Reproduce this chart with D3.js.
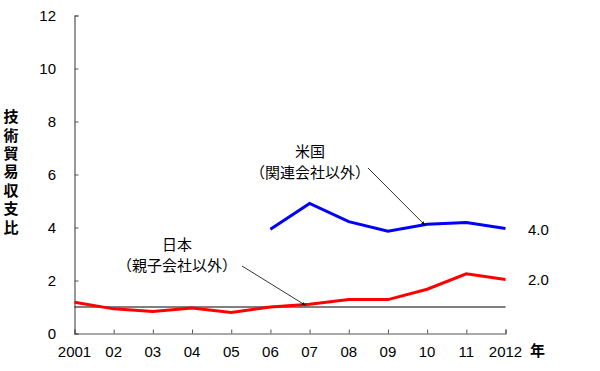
<!DOCTYPE html>
<html>
<head>
<meta charset="utf-8">
<script src="https://d3js.org/d3.v7.min.js"></script>
<style>
  body { margin: 0; background: #fff; }
  text { font-family: "Liberation Sans", "Noto Sans CJK JP", sans-serif; fill: #000; }
  .jp { font-family: "Noto Sans CJK JP", sans-serif; }
</style>
</head>
<body>
<svg class="chart"></svg>
<script>
const years = [2001, 2002, 2003, 2004, 2005, 2006, 2007, 2008, 2009, 2010, 2011, 2012];
const yearLabels = ['2001', '02', '03', '04', '05', '06', '07', '08', '09', '10', '11', '2012'];
const japan = [1.18, 0.93, 0.83, 0.96, 0.79, 1.0, 1.1, 1.28, 1.28, 1.67, 2.25, 2.04];
const usYears = [2006, 2007, 2008, 2009, 2010, 2011, 2012];
const us = [3.93, 4.91, 4.22, 3.86, 4.12, 4.19, 3.96];
const yTicks = [0, 2, 4, 6, 8, 10, 12];

const width = 600, height = 371;
const svg = d3.select('.chart')
  .attr('width', width)
  .attr('height', height)
  .attr('viewBox', [0, 0, width, height]);

const x = d3.scaleLinear().domain([2001, 2012]).range([74.5, 505.5]);
const y = d3.scaleLinear().domain([0, 12]).range([333.5, 15.5]);

svg.append('defs').append('marker')
  .attr('id', 'arr')
  .attr('viewBox', '0 0 10 10')
  .attr('refX', 10).attr('refY', 5)
  .attr('markerWidth', 5).attr('markerHeight', 5)
  .attr('orient', 'auto')
  .append('path').attr('d', 'M0,1L10,5L0,9z').attr('fill', '#000');

// axes
const yAxis = svg.append('g')
  .attr('transform', `translate(${x(2001)},0)`)
  .call(d3.axisRight(y).tickValues(yTicks).tickSize(4).tickFormat(''));
yAxis.select('.domain').attr('stroke', '#555').attr('stroke-width', 1.2);
yAxis.selectAll('.tick line').attr('stroke', '#555');

svg.selectAll('.ylab')
  .data(yTicks)
  .join('text')
  .attr('class', 'ylab')
  .attr('x', 56).attr('y', d => y(d) + 5)
  .attr('text-anchor', 'end')
  .attr('font-size', 15)
  .text(d => d);

const xAxis = svg.append('g')
  .attr('transform', `translate(0,${y(0)})`)
  .call(d3.axisTop(x).tickValues(years).tickSize(4).tickFormat(''));
xAxis.select('.domain').attr('stroke', '#555').attr('stroke-width', 1.2);
xAxis.selectAll('.tick line').attr('stroke', '#555');

svg.selectAll('.xlab')
  .data(years)
  .join('text')
  .attr('class', 'xlab')
  .attr('x', d => x(d)).attr('y', 357)
  .attr('text-anchor', 'middle')
  .attr('font-size', 15)
  .text((d, i) => yearLabels[i]);

svg.append('text').attr('class', 'jp')
  .attr('x', 530).attr('y', 356)
  .attr('font-size', 15).attr('font-weight', 'bold')
  .text('年');

// y title, vertical
svg.append('text')
  .attr('class', 'jp')
  .attr('x', 11).attr('y', 109)
  .attr('writing-mode', 'tb')
  .style('letter-spacing', '3.4px')
  .attr('font-size', 15).attr('font-weight', 'bold')
  .text('技術貿易収支比');

// reference line at 1
svg.append('line')
  .attr('x1', x(2001)).attr('x2', x(2012))
  .attr('y1', y(1)).attr('y2', y(1))
  .attr('stroke', '#000').attr('stroke-width', 1);

const line = d3.line().x(d => x(d[0])).y(d => y(d[1]));

svg.append('path')
  .datum(years.map((d, i) => [d, japan[i]]))
  .attr('d', line)
  .attr('fill', 'none').attr('stroke', '#ff0000').attr('stroke-width', 3);

svg.append('path')
  .datum(usYears.map((d, i) => [d, us[i]]))
  .attr('d', line)
  .attr('fill', 'none').attr('stroke', '#0000ff').attr('stroke-width', 3);

// end labels
svg.append('text').attr('x', 528).attr('y', y(us[us.length - 1]) + 6)
  .attr('font-size', 15).text(us[us.length - 1].toFixed(1));
svg.append('text').attr('x', 528).attr('y', y(japan[japan.length - 1]) + 6)
  .attr('font-size', 15).text(japan[japan.length - 1].toFixed(1));

// annotations
function note(cx, cyTop, lines) {
  svg.append('g').selectAll('text')
    .data(lines)
    .join('text')
    .attr('class', 'jp')
    .attr('x', cx).attr('y', (d, i) => cyTop + i * 21)
    .attr('text-anchor', 'middle')
    .attr('font-size', 15)
    .text(d => d);
}
note(310, 157, ['米国', '（関連会社以外）']);
note(177, 250, ['日本', '（親子会社以外）']);

svg.append('line')
  .attr('x1', 368).attr('y1', 168)
  .attr('x2', x(2010) - 2).attr('y2', y(4.12) + 1)
  .attr('stroke', '#000').attr('stroke-width', 0.8)
  .attr('marker-end', 'url(#arr)');
svg.append('line')
  .attr('x1', 242).attr('y1', 266)
  .attr('x2', x(2007) - 4).attr('y2', y(1.1) + 1)
  .attr('stroke', '#000').attr('stroke-width', 0.8)
  .attr('marker-end', 'url(#arr)');
</script>
</body>
</html>
